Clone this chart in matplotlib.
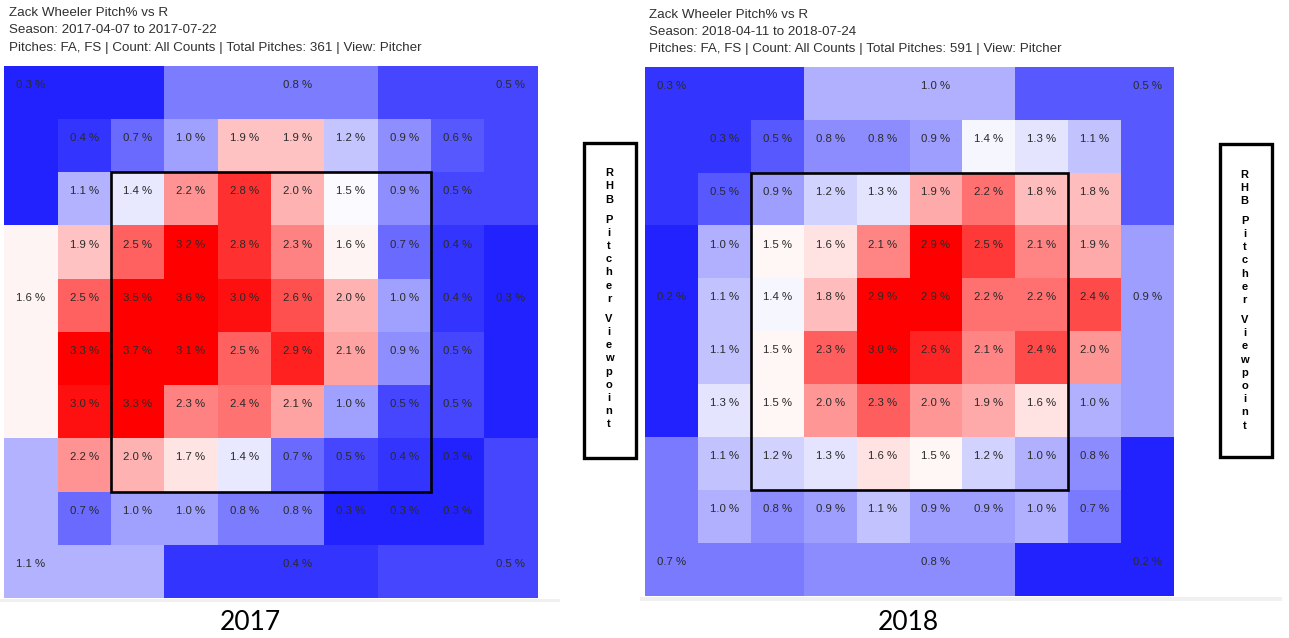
import numpy as np
import matplotlib
matplotlib.use("Agg")
import matplotlib.pyplot as plt
from matplotlib.colors import TwoSlopeNorm
from matplotlib.patches import Rectangle

# ---------------- data ----------------
years = ["2017", "2018"]
seasons = ["Season: 2017-04-07 to 2017-07-22", "Season: 2018-04-11 to 2018-07-24"]
total_pitches = [361, 591]

# inner 8x8 grid (top row first, pitcher view)
inner_2017 = [
    [0.4, 0.7, 1.0, 1.9, 1.9, 1.2, 0.9, 0.6],
    [1.1, 1.4, 2.2, 2.8, 2.0, 1.5, 0.9, 0.5],
    [1.9, 2.5, 3.2, 2.8, 2.3, 1.6, 0.7, 0.4],
    [2.5, 3.5, 3.6, 3.0, 2.6, 2.0, 1.0, 0.4],
    [3.3, 3.7, 3.1, 2.5, 2.9, 2.1, 0.9, 0.5],
    [3.0, 3.3, 2.3, 2.4, 2.1, 1.0, 0.5, 0.5],
    [2.2, 2.0, 1.7, 1.4, 0.7, 0.5, 0.4, 0.3],
    [0.7, 1.0, 1.0, 0.8, 0.8, 0.3, 0.3, 0.3],
]
inner_2018 = [
    [0.3, 0.5, 0.8, 0.8, 0.9, 1.4, 1.3, 1.1],
    [0.5, 0.9, 1.2, 1.3, 1.9, 2.2, 1.8, 1.8],
    [1.0, 1.5, 1.6, 2.1, 2.9, 2.5, 2.1, 1.9],
    [1.1, 1.4, 1.8, 2.9, 2.9, 2.2, 2.2, 2.4],
    [1.1, 1.5, 2.3, 3.0, 2.6, 2.1, 2.4, 2.0],
    [1.3, 1.5, 2.0, 2.3, 2.0, 1.9, 1.6, 1.0],
    [1.1, 1.2, 1.3, 1.6, 1.5, 1.2, 1.0, 0.8],
    [1.0, 0.8, 0.9, 1.1, 0.9, 0.9, 1.0, 0.7],
]
# outer regions: top-left, top-mid, top-right, left-mid, right-mid,
#                bottom-left, bottom-mid, bottom-right
outer_2017 = [0.3, 0.8, 0.5, 1.6, 0.3, 1.1, 0.4, 0.5]
outer_2018 = [0.3, 1.0, 0.5, 0.2, 0.9, 0.7, 0.8, 0.2]

# colour scale (min, centre, max) per season
scale_2017 = [0.1, 1.53, 3.1]
scale_2018 = [0.0, 1.45, 2.8]

viewpoint_words = ["RHB", "Pitcher", "Viewpoint"]

# ---------------- helpers ----------------
def build_grid(inner, outer):
    g = np.zeros((10, 10))
    g[1:9, 1:9] = np.array(inner)
    tl, tm, tr, lm, rm, bl, bm, br = outer
    g[0, 0:3] = tl; g[0:3, 0] = tl
    g[0, 3:7] = tm
    g[0, 7:10] = tr; g[0:3, 9] = tr
    g[3:7, 0] = lm
    g[3:7, 9] = rm
    g[9, 0:3] = bl; g[7:10, 0] = bl
    g[9, 3:7] = bm
    g[9, 7:10] = br; g[7:10, 9] = br
    return g

# (row, col) where each outer-region label sits
outer_label_cells = [(0, 0), (0, 5), (0, 9), (4, 0), (4, 9), (9, 0), (9, 5), (9, 9)]

W, H = 1289, 638
fig = plt.figure(figsize=(W / 100, H / 100), dpi=100)
fig.patch.set_facecolor("white")

LABEL_FONT = "Liberation Sans"

def px_axes(x0, y0, x1, y1):
    return fig.add_axes([x0 / W, 1 - y1 / H, (x1 - x0) / W, (y1 - y0) / H])

panels = [
    dict(box=(4.3, 65.7, 537.5, 598.0), inner=inner_2017, outer=outer_2017, scale=scale_2017),
    dict(box=(645.0, 66.7, 1174.0, 596.0), inner=inner_2018, outer=outer_2018, scale=scale_2018),
]

for p in panels:
    ax = px_axes(*p["box"])
    g = build_grid(p["inner"], p["outer"])
    vmin, vc, vmax = p["scale"]
    norm = TwoSlopeNorm(vmin=vmin, vcenter=vc, vmax=vmax)
    ax.pcolormesh(np.arange(11), np.arange(11), g, cmap="bwr", norm=norm,
                  shading="flat", edgecolors="none", antialiased=False)
    ax.set_xlim(0, 10)
    ax.set_ylim(10, 0)
    ax.set_axis_off()
    off = 0.14
    inner = np.array(p["inner"])
    for r in range(8):
        for c in range(8):
            ax.text(c + 1.5, r + 1.5 - off, f"{inner[r, c]:.1f} %", ha="center", va="center",
                    fontsize=8.2, family=LABEL_FONT, color="#2a2a2a")
    for (r, c), v in zip(outer_label_cells, p["outer"]):
        ax.text(c + 0.5, r + 0.5 - off, f"{v:.1f} %", ha="center", va="center",
                fontsize=8.2, family=LABEL_FONT, color="#2a2a2a")
    # strike zone
    ax.add_patch(Rectangle((2, 2), 6, 6, fill=False, ec="black", lw=1.9, zorder=5))

# overlay in pixel coordinates
ov = fig.add_axes([0, 0, 1, 1], facecolor="none")
ov.set_xlim(0, W)
ov.set_ylim(H, 0)
ov.set_axis_off()

title_pos = [(9, 12.7), (649, 14.5)]
for i in range(2):
    x, y = title_pos[i]
    lines = ["Zack Wheeler Pitch% vs R", seasons[i],
             f"Pitches: FA, FS | Count: All Counts | Total Pitches: {total_pitches[i]} | View: Pitcher"]
    for k, line in enumerate(lines):
        ov.text(x, y + k * 17.4, line, ha="left", va="center", fontsize=9.6,
                family=LABEL_FONT, color="#303030")

# faint bottom bands of the screenshots
ov.add_patch(Rectangle((0, 598.5), 560, 3.0, fc="#f0f0f0", ec="none"))
ov.add_patch(Rectangle((640, 596.5), 642, 4.5, fc="#f0f0f0", ec="none"))

# year labels
for i, (cx, cy) in enumerate([(250, 622), (908, 623)]):
    ov.text(cx, cy, years[i], ha="center", va="center", fontsize=19, family="Lato", color="black")

# RHB Pitcher Viewpoint boxes
for bx, by0, by1 in [(584, 142.7, 458), (1219.5, 144, 456.7)]:
    ov.add_patch(Rectangle((bx, by0), 52, by1 - by0, fc="white", ec="black", lw=2.4, zorder=3))
    pitch, gap = 13.2, 20.0
    y = by0 + 30.5
    for w_i, word in enumerate(viewpoint_words):
        if w_i > 0:
            y += gap - pitch
        for ch in word:
            ov.text(bx + 25, y, ch, ha="center", va="center", fontsize=8,
                    family=LABEL_FONT, weight="bold", color="black", zorder=4)
            y += pitch

fig.savefig("out.png", dpi=100, facecolor="white")
